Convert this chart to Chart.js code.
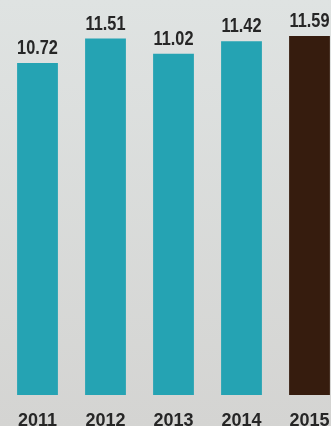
<!DOCTYPE html>
<html>
<head>
<meta charset="utf-8">
<script src="https://cdn.jsdelivr.net/npm/chart.js@4/dist/chart.umd.min.js"></script>
<style>
  html, body { margin: 0; padding: 0; width: 331px; height: 426px; overflow: hidden; }
  body { background: linear-gradient(to bottom, #dfe3e2, #d4d4d2); }
  #wrap { width: 345px; height: 440px; position: relative; }
</style>
</head>
<body>
<div id="wrap"><canvas id="chart"></canvas></div>
<script>
// years and values
const years = ["2011", "2012", "2013", "2014", "2015"];
const values = [10.72, 11.51, 11.02, 11.42, 11.59];
const barColors = ["#25a3b3", "#25a3b3", "#25a3b3", "#25a3b3", "#361c0e"];

// value labels above the bars (slightly tall, like the source)
const valueLabels = {
  id: "valueLabels",
  afterDatasetsDraw(chart) {
    const ctx = chart.ctx;
    const meta = chart.getDatasetMeta(0);
    ctx.save();
    ctx.font = "bold 16px 'Liberation Sans', Arial, sans-serif";
    ctx.fillStyle = "#262626";
    ctx.textAlign = "center";
    ctx.textBaseline = "alphabetic";
    meta.data.forEach((bar, i) => {
      ctx.save();
      ctx.translate(bar.x, bar.y - 9);
      ctx.scale(1.02, 1.22);
      ctx.fillText(values[i].toFixed(2), 0, 0);
      ctx.restore();
    });
    ctx.restore();
  }
};

new Chart(document.getElementById("chart"), {
  type: "bar",
  data: {
    labels: years,
    datasets: [{
      data: values,
      backgroundColor: barColors,
      barPercentage: 0.6,
      categoryPercentage: 1
    }]
  },
  options: {
    responsive: true,
    maintainAspectRatio: false,
    animation: false,
    layout: { padding: { left: 3.5, right: 1.5, top: 23.4, bottom: 0 } },
    plugins: { legend: { display: false }, tooltip: { enabled: false } },
    scales: {
      y: { display: false, min: 0, max: 12 },
      x: {
        grid: { display: false },
        border: { display: false },
        ticks: {
          color: "#262626",
          padding: 7,
          font: { family: "'Liberation Sans', Arial, sans-serif", size: 18, weight: "bold" }
        },
        afterFit(scale) { scale.height = 45; }
      }
    }
  },
  plugins: [valueLabels]
});
</script>
</body>
</html>
